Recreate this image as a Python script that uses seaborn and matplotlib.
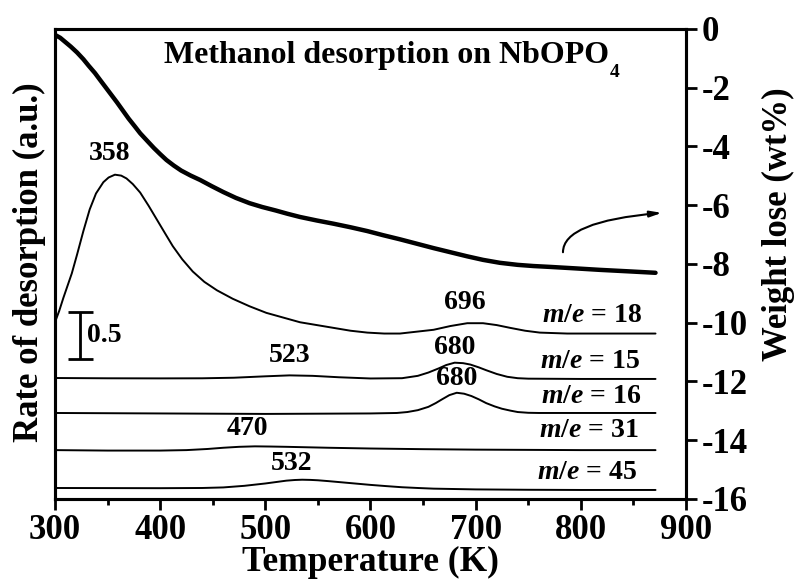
import matplotlib
matplotlib.use("Agg")
import matplotlib.pyplot as plt
import seaborn as sns
import pandas as pd
from matplotlib.ticker import MultipleLocator

# TGA weight loss curve (right axis, wt%)
tga_temp = [300, 305, 310, 315, 321, 327, 332, 338, 343, 351, 359, 365, 370,
            376, 381, 388, 394, 400, 406, 413, 420, 429, 438, 449, 460, 472,
            485, 497, 510, 521, 533, 549, 565, 581, 597, 612, 628, 644, 660,
            676, 692, 707, 723, 740, 755, 771, 795, 818, 845, 871]
tga_weight = [-0.2, -0.3, -0.45, -0.6, -0.8, -1.03, -1.25, -1.5, -1.74, -2.12,
              -2.5, -2.8, -3.05, -3.32, -3.55, -3.82, -4.05, -4.26, -4.46,
              -4.65, -4.82, -4.99, -5.14, -5.35, -5.55, -5.75, -5.93, -6.06,
              -6.18, -6.29, -6.4, -6.52, -6.63, -6.75, -6.88, -7.02, -7.16,
              -7.31, -7.46, -7.6, -7.74, -7.86, -7.96, -8.03, -8.07, -8.1,
              -8.15, -8.2, -8.25, -8.3]

# desorption rate curves (a.u., offset)
me18_temp = [300, 304, 308, 312, 316, 321, 327, 333, 339, 346, 351, 357, 363,
             368, 374, 381, 389, 397, 405, 412, 421, 431, 442, 454, 469, 485,
             501, 517, 533, 549, 565, 581, 597, 613, 628, 644, 660, 676, 692,
             707, 720, 733, 747, 761, 787, 830, 871]
me18_rate = [1.88, 2.0, 2.14, 2.27, 2.4, 2.6, 2.85, 3.08, 3.25, 3.37, 3.42,
             3.45, 3.44, 3.41, 3.35, 3.26, 3.12, 2.97, 2.82, 2.69, 2.55, 2.42,
             2.31, 2.22, 2.13, 2.05, 1.98, 1.93, 1.88, 1.85, 1.82, 1.79, 1.77,
             1.76, 1.76, 1.78, 1.80, 1.84, 1.87, 1.87, 1.85, 1.82, 1.79, 1.77,
             1.76, 1.76, 1.76]

me15_temp = [300, 350, 400, 440, 470, 500, 523, 545, 570, 600, 630, 645, 655,
             665, 672, 680, 688, 695, 703, 710, 720, 730, 740, 750, 800, 871]
me15_rate = [1.287, 1.284, 1.283, 1.284, 1.29, 1.305, 1.315, 1.31, 1.295,
             1.282, 1.285, 1.31, 1.345, 1.39, 1.425, 1.45, 1.445, 1.43, 1.4,
             1.37, 1.33, 1.3, 1.285, 1.28, 1.277, 1.277]

me16_temp = [300, 400, 500, 600, 625, 635, 645, 655, 662, 668, 675, 682, 689,
             696, 703, 710, 718, 725, 733, 740, 750, 760, 871]
me16_rate = [0.915, 0.91, 0.905, 0.91, 0.915, 0.925, 0.945, 0.98, 1.02, 1.06,
             1.105, 1.13, 1.12, 1.095, 1.06, 1.02, 0.985, 0.96, 0.94, 0.925,
             0.917, 0.915, 0.915]

me31_temp = [300, 350, 400, 425, 445, 460, 475, 490, 505, 520, 560, 600, 650,
             700, 800, 871]
me31_rate = [0.52, 0.515, 0.515, 0.52, 0.532, 0.545, 0.555, 0.56, 0.558,
             0.555, 0.545, 0.537, 0.53, 0.525, 0.52, 0.52]

me45_temp = [300, 350, 400, 440, 460, 480, 500, 510, 520, 528, 535, 543, 550,
             560, 570, 585, 600, 615, 630, 645, 660, 700, 750, 800, 871]
me45_rate = [0.117, 0.116, 0.115, 0.117, 0.123, 0.14, 0.165, 0.18, 0.195,
             0.202, 0.205, 0.203, 0.199, 0.19, 0.18, 0.165, 0.15, 0.137, 0.125,
             0.117, 0.11, 0.102, 0.098, 0.096, 0.096]

# peak / curve annotations: (text, T, a.u.)
peak_labels = [("358", 352, 3.68), ("696", 690, 2.09), ("680", 680, 1.61),
               ("680", 682, 1.28), ("523", 523, 1.53), ("470", 483, 0.75),
               ("532", 525, 0.38)]
mass_labels = [("18", 811, 1.95), ("15", 809, 1.46), ("16", 810, 1.09),
               ("31", 808, 0.73), ("45", 806, 0.28)]

sns.set_style("ticks")
plt.rcParams["font.family"] = ["Liberation Serif", "DejaVu Serif"]
plt.rcParams["font.weight"] = "bold"
plt.rcParams["axes.unicode_minus"] = False
plt.rcParams["mathtext.fontset"] = "custom"
plt.rcParams["mathtext.rm"] = "Liberation Serif:bold"
plt.rcParams["mathtext.bf"] = "Liberation Serif:bold"
plt.rcParams["mathtext.it"] = "Liberation Serif:bold:italic"
for key in ["text.color", "axes.labelcolor", "xtick.color", "ytick.color",
            "axes.edgecolor"]:
    plt.rcParams[key] = "black"

fig = plt.figure(figsize=(7.99, 5.83), dpi=100)
ax = fig.add_axes([0.0688, 0.1441, 0.7898, 0.8062])
ax2 = ax.twinx()

ms_curves = [(me18_temp, me18_rate), (me15_temp, me15_rate),
             (me16_temp, me16_rate), (me31_temp, me31_rate),
             (me45_temp, me45_rate)]
for t, r in ms_curves:
    df = pd.DataFrame({"T": t, "rate": r})
    sns.lineplot(data=df, x="T", y="rate", ax=ax, color="black", lw=1.4,
                 sort=False)

tga = pd.DataFrame({"T": tga_temp, "w": tga_weight})
sns.lineplot(data=tga, x="T", y="w", ax=ax2, color="black", lw=3.2,
             sort=False)

# axes ranges and ticks
ax.set_xlim(300, 900)
ax.set_ylim(0, 5)
ax2.set_ylim(-16, 0)
ax.xaxis.set_major_locator(MultipleLocator(100))
ax.xaxis.set_minor_locator(MultipleLocator(50))
ax2.yaxis.set_major_locator(MultipleLocator(2))
ax.set_yticks([])

ax.tick_params(axis="x", which="major", direction="out", length=8, width=2,
               labelsize=25, pad=3)
ax.tick_params(axis="x", which="minor", direction="out", length=4.5, width=2)
ax2.tick_params(axis="y", direction="out", length=8, width=2, labelsize=25,
                pad=3)
for a in (ax, ax2):
    for s in a.spines.values():
        s.set_linewidth(2.2)
        s.set_visible(True)

ax.set_xlabel("Temperature (K)", fontsize=25.5, fontweight="bold", labelpad=-1)
ax.set_ylabel("Rate of desorption (a.u.)", fontsize=25, fontweight="bold")
ax.yaxis.set_label_coords(-0.015, 0.504)
ax2.set_ylabel("Weight lose (wt%)", fontsize=25, fontweight="bold")
ax2.yaxis.set_label_coords(1.12, 0.585)

title = ax.text(0.525, 0.928, "Methanol desorption on NbOPO",
                transform=ax.transAxes, ha="center", va="baseline",
                fontsize=23, fontweight="bold")
ax.annotate("4", xy=(1, 0), xycoords=title, xytext=(1, -2),
            textcoords="offset points", ha="left", va="center", fontsize=14,
            fontweight="bold")

for txt, t, v in peak_labels:
    ax.text(t, v, txt, ha="center", va="center", fontsize=20,
            fontweight="bold")
for txt, t, v in mass_labels:
    ax.text(t, v, r"$m/e$ = " + txt, ha="center", va="center", fontsize=20,
            fontweight="bold")

# 0.5 a.u. scale bar
ax.errorbar(324, 1.74, yerr=0.25, fmt="none", ecolor="black", elinewidth=2,
            capsize=9, capthick=2)
ax.text(330, 1.74, "0.5", ha="left", va="center", fontsize=20,
        fontweight="bold")

# arrow pointing to the right axis
ax2.annotate("", xy=(877, -6.26), xytext=(783, -7.6),
             arrowprops=dict(arrowstyle="-|>,head_length=0.7,head_width=0.18",
                             connectionstyle="angle3,angleA=90,angleB=5",
                             color="black", lw=1.5, shrinkA=0, shrinkB=0))

fig.savefig("out.png", dpi=100)
plt.close(fig)
